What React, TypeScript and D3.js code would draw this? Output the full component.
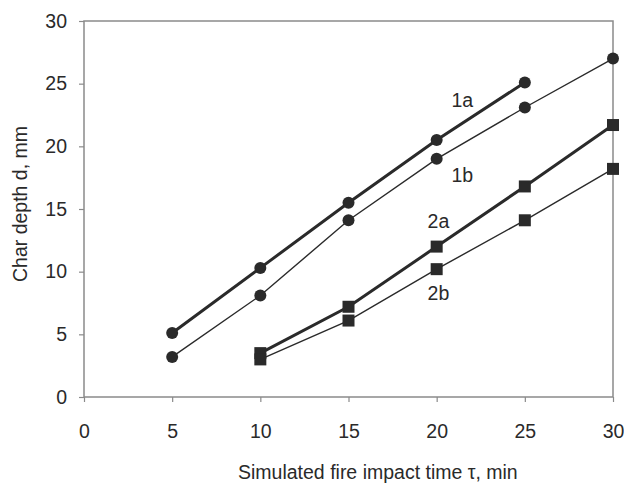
import React, { useEffect, useRef } from "react";
import * as d3 from "d3";

const width = 624;
const height = 484;
const marginTop = 21;
const marginRight = 11;
const marginBottom = 87;
const marginLeft = 84;

const times1 = [5, 10, 15, 20, 25];
const times1b = [5, 10, 15, 20, 25, 30];
const times2 = [10, 15, 20, 25, 30];

const depth1a = [5.1, 10.3, 15.5, 20.5, 25.1];
const depth1b = [3.2, 8.1, 14.1, 19.0, 23.1, 27.0];
const depth2a = [3.5, 7.2, 12.0, 16.8, 21.7];
const depth2b = [3.0, 6.1, 10.2, 14.1, 18.2];

const xTicks = [0, 5, 10, 15, 20, 25, 30];
const yTicks = [0, 5, 10, 15, 20, 25, 30];

const series = [
  { name: "1a", x: times1, y: depth1a, marker: "circle", width: 3, label: [21.45, 23.7] },
  { name: "1b", x: times1b, y: depth1b, marker: "circle", width: 1.4, label: [21.45, 17.7] },
  { name: "2a", x: times2, y: depth2a, marker: "square", width: 3, label: [20.1, 14.0] },
  { name: "2b", x: times2, y: depth2b, marker: "square", width: 1.4, label: [20.1, 8.3] },
];

export default function App() {
  const ref = useRef<SVGSVGElement>(null);

  useEffect(() => {
    const svg = d3.select(ref.current);
    svg.selectAll("*").remove();

    const x = d3.scaleLinear().domain([0, 30]).range([marginLeft, width - marginRight]);
    const y = d3.scaleLinear().domain([0, 30]).range([height - marginBottom, marginTop]);

    const font = "'Liberation Sans', Arial, sans-serif";
    const fontSize = 19.5;
    const axisColor = "#8a8a8a";
    const ink = "#2a2a2a";

    // plot frame
    svg
      .append("rect")
      .attr("x", marginLeft)
      .attr("y", marginTop)
      .attr("width", width - marginRight - marginLeft)
      .attr("height", height - marginBottom - marginTop)
      .attr("fill", "none")
      .attr("stroke", axisColor)
      .attr("stroke-width", 1.5);

    // x axis
    const gx = svg
      .append("g")
      .attr("transform", `translate(0,${height - marginBottom})`)
      .call(d3.axisBottom(x).tickValues(xTicks).tickSize(5).tickPadding(22).tickFormat(d3.format("d")));
    gx.select(".domain").remove();
    gx.selectAll(".tick line").attr("stroke", axisColor).attr("stroke-width", 1.2);
    gx.selectAll(".tick text")
      .attr("font-family", font)
      .attr("font-size", fontSize)
      .attr("fill", ink);

    // y axis
    const gy = svg
      .append("g")
      .attr("transform", `translate(${marginLeft},0)`)
      .call(d3.axisLeft(y).tickValues(yTicks).tickSize(5).tickPadding(12).tickFormat(d3.format("d")));
    gy.select(".domain").remove();
    gy.selectAll(".tick line").attr("stroke", axisColor).attr("stroke-width", 1.2);
    gy.selectAll(".tick text")
      .attr("font-family", font)
      .attr("font-size", fontSize)
      .attr("fill", ink);

    // titles
    svg
      .append("text")
      .attr("x", 238)
      .attr("y", 479)
      .attr("text-anchor", "start")
      .attr("font-family", font)
      .attr("font-size", fontSize)
      .attr("fill", ink)
      .text("Simulated fire impact time τ, min");

    svg
      .append("text")
      .attr("transform", `translate(27,${204}) rotate(-90)`)
      .attr("text-anchor", "middle")
      .attr("font-family", font)
      .attr("font-size", fontSize)
      .attr("fill", ink)
      .text("Char depth d, mm");

    const line = d3
      .line<[number, number]>()
      .x(d => x(d[0]))
      .y(d => y(d[1]));

    series.forEach(s => {
      const pts: [number, number][] = s.x.map((t, i) => [t, s.y[i]]);
      svg
        .append("path")
        .datum(pts)
        .attr("fill", "none")
        .attr("stroke", ink)
        .attr("stroke-width", s.width)
        .attr("d", line);

      if (s.marker === "circle") {
        svg
          .append("g")
          .selectAll("circle")
          .data(pts)
          .join("circle")
          .attr("cx", d => x(d[0]))
          .attr("cy", d => y(d[1]))
          .attr("r", 6)
          .attr("fill", ink);
      } else {
        svg
          .append("g")
          .selectAll("rect")
          .data(pts)
          .join("rect")
          .attr("x", d => x(d[0]) - 6)
          .attr("y", d => y(d[1]) - 6)
          .attr("width", 12)
          .attr("height", 12)
          .attr("fill", ink);
      }

      svg
        .append("text")
        .attr("x", x(s.label[0]))
        .attr("y", y(s.label[1]))
        .attr("text-anchor", "middle")
        .attr("dy", "0.35em")
        .attr("font-family", font)
        .attr("font-size", fontSize)
        .attr("fill", ink)
        .text(s.name);
    });
  }, []);

  return (
    <svg
      ref={ref}
      width={width}
      height={height}
      viewBox={`0 0 ${width} ${height}`}
      style={{ position: "absolute", left: 0, top: 0, background: "#fff" }}
    ></svg>
  );
}
